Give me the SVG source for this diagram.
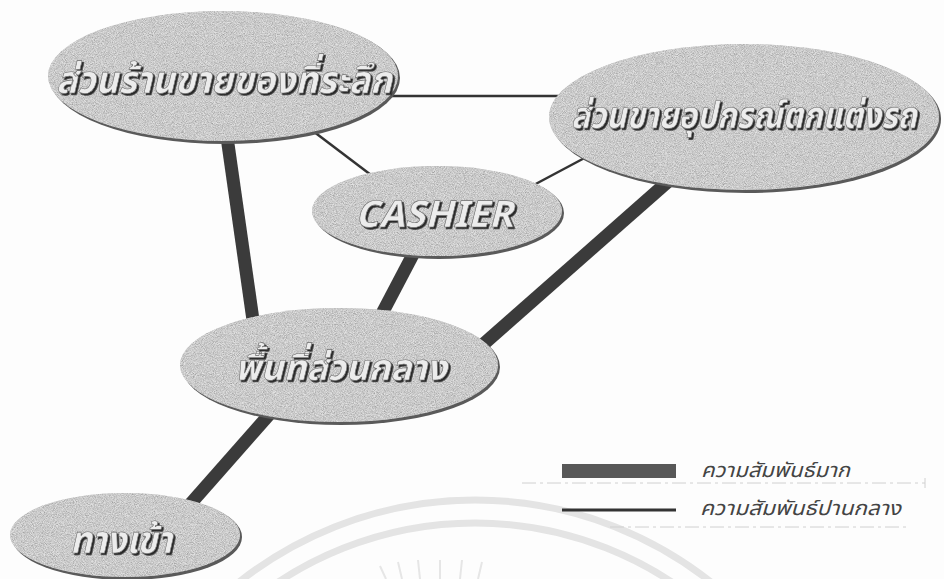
<svg xmlns="http://www.w3.org/2000/svg" width="944" height="579" viewBox="0 0 944 579">
  <style>
    .thick { stroke: #3b3b3b; stroke-width: 13; stroke-linecap: butt; fill: none; }
    .thin { stroke: #333; stroke-width: 2.5; fill: none; }
    .shadow { fill: #5a5a5a; }
    .body { fill: #bdbdbd; filter: url(#grain); }
    .label { font-family: "Noto Sans Thai", "Liberation Sans", "DejaVu Sans", sans-serif; font-style: italic; font-weight: bold; fill: #ececec; stroke: #6a6a6a; stroke-width: 0.6; filter: url(#emboss); text-anchor: middle; }
    .legend { font-family: "Noto Sans Thai", "Liberation Sans", "DejaVu Sans", sans-serif; font-style: italic; font-size: 20px; fill: #444; }
    .wm { fill: none; stroke: #e4e4e4; stroke-width: 7; }
    .guide { stroke: #d0d0d0; stroke-width: 1; stroke-dasharray: 14 4 3 4; fill: none; }
  </style>
  <defs>
    <filter id="grain" x="0" y="0" width="100%" height="100%">
      <feTurbulence type="fractalNoise" baseFrequency="1.1" numOctaves="2" seed="7" result="n"/>
      <feColorMatrix in="n" type="matrix" values="1.3 0 0 0 0.02  1.3 0 0 0 0.02  1.3 0 0 0 0.02  0 0 0 0 0.5" result="dots"/>
      <feComposite in="dots" in2="SourceGraphic" operator="in" result="clip"/>
      <feMerge><feMergeNode in="SourceGraphic"/><feMergeNode in="clip"/></feMerge>
    </filter>
    <filter id="emboss" x="-10%" y="-30%" width="120%" height="160%">
      <feDropShadow dx="1.8" dy="1.8" stdDeviation="0.4" flood-color="#1a1a1a" flood-opacity="0.95"/>
    </filter>
  </defs>
  <rect width="944" height="579" fill="#fdfdfd"/>

  <g id="watermark">
    <circle class="wm" cx="475" cy="880" r="380"/>
    <circle class="wm" cx="475" cy="880" r="357"/>
    <g stroke="#e6e6e6" stroke-width="2">
      <line x1="380" y1="566" x2="386" y2="579"/>
      <line x1="398" y1="562" x2="402" y2="579"/>
      <line x1="418" y1="560" x2="420" y2="579"/>
      <line x1="440" y1="560" x2="440" y2="579"/>
      <line x1="462" y1="560" x2="460" y2="579"/>
      <line x1="482" y1="562" x2="478" y2="579"/>
    </g>
  </g>

  <g id="connectors">
    <line class="thick" x1="226" y1="130" x2="253" y2="320"/>
    <line class="thick" x1="418" y1="245" x2="376" y2="325"/>
    <line class="thick" x1="672" y1="178" x2="470" y2="356"/>
    <line class="thick" x1="275" y1="408" x2="185" y2="510"/>
    <line class="thin" x1="390" y1="96" x2="560" y2="96"/>
    <line class="thin" x1="305" y1="125" x2="375" y2="178"/>
    <line class="thin" x1="530" y1="187" x2="592" y2="154"/>
  </g>

  <g id="node-souvenir">
    <ellipse class="shadow" cx="225" cy="78" rx="175" ry="66"/>
    <ellipse class="body" cx="223" cy="76" rx="175" ry="65"/>
    <text class="label" x="224" y="93" font-size="38" textLength="336" lengthAdjust="spacingAndGlyphs">ส่วนร้านขายของที่ระลึก</text>
  </g>

  <g id="node-car">
    <ellipse class="shadow" cx="746" cy="119" rx="195" ry="74"/>
    <ellipse class="body" cx="744" cy="117" rx="195" ry="73"/>
    <text class="label" x="744" y="128" font-size="37" textLength="346" lengthAdjust="spacingAndGlyphs">ส่วนขายอุปกรณ์ตกแต่งรถ</text>
  </g>

  <g id="node-cashier">
    <ellipse class="shadow" cx="439" cy="213" rx="125" ry="46"/>
    <ellipse class="body" cx="437" cy="211" rx="125" ry="45"/>
    <text class="label" x="434" y="227" font-size="37" textLength="158" lengthAdjust="spacingAndGlyphs">CASHIER</text>
  </g>

  <g id="node-central">
    <ellipse class="shadow" cx="341" cy="367" rx="159" ry="58"/>
    <ellipse class="body" cx="339" cy="365" rx="159" ry="57"/>
    <text class="label" x="341" y="380" font-size="36" textLength="212" lengthAdjust="spacingAndGlyphs">พื้นที่ส่วนกลาง</text>
  </g>

  <g id="node-entrance">
    <ellipse class="shadow" cx="127" cy="537" rx="115" ry="43"/>
    <ellipse class="body" cx="125" cy="535" rx="115" ry="42"/>
    <text class="label" x="121" y="553" font-size="38" textLength="102" lengthAdjust="spacingAndGlyphs">ทางเข้า</text>
  </g>

  <g id="legend">
    <line class="guide" x1="522" y1="483" x2="925" y2="483"/>
    <line x1="925" y1="478" x2="925" y2="488" stroke="#d0d0d0" stroke-width="1"/>
    <line class="guide" x1="610" y1="527" x2="907" y2="527"/>
    <rect x="562" y="464" width="114" height="14" fill="#585858"/>
    <line x1="562" y1="510" x2="676" y2="510" stroke="#333" stroke-width="3"/>
    <text class="legend" x="701" y="477" textLength="149" lengthAdjust="spacingAndGlyphs">ความสัมพันธ์มาก</text>
    <text class="legend" x="700" y="515" textLength="201" lengthAdjust="spacingAndGlyphs">ความสัมพันธ์ปานกลาง</text>
  </g>
</svg>
